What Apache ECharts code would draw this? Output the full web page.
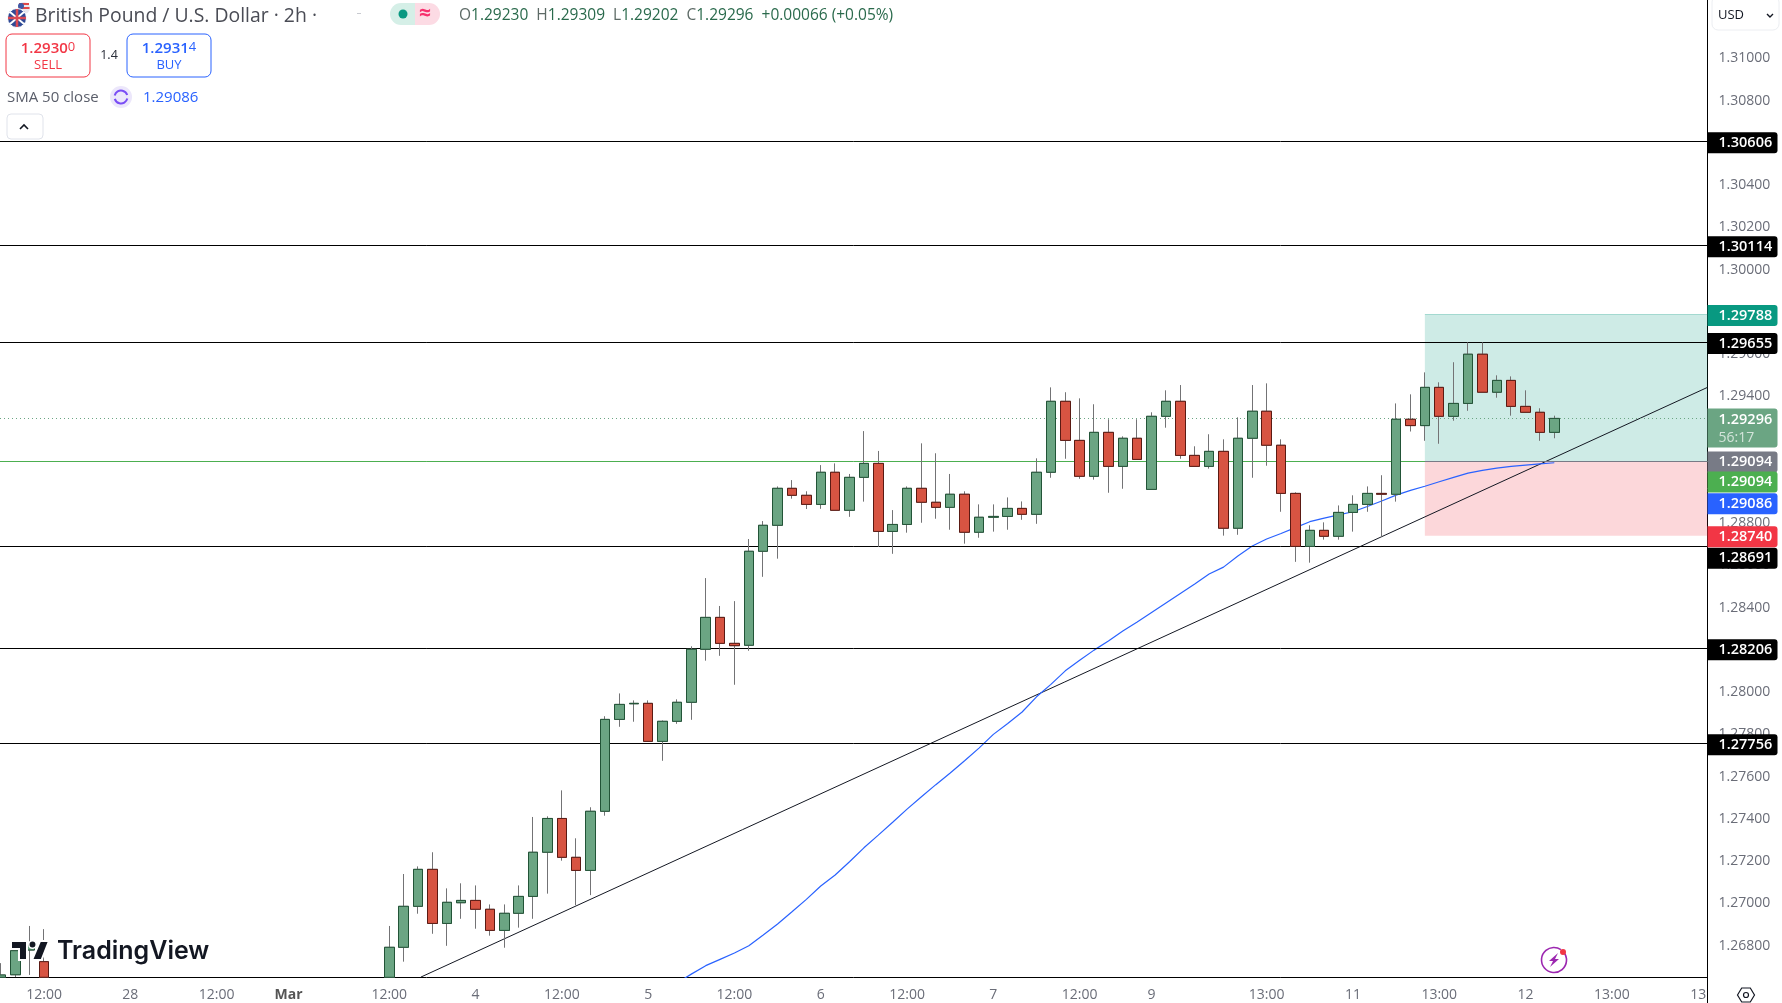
<!DOCTYPE html>
<html><head><meta charset="utf-8">
<style>html,body{margin:0;padding:0;background:#fff}#c{width:1782px;height:1003px}</style>
<script src="https://cdn.jsdelivr.net/npm/echarts@6/dist/echarts.min.js"></script>
</head><body><div id="c"></div>
<script>
// Candles by slot (2h bars). Slots 4-26 lie below the visible price range.
const hidden = Array(23).fill(null);
const opens = [1.26650,1.26662,1.26779,1.26724,...hidden,
 1.26650,1.26792,1.26986,1.27161,1.26905,1.27003,1.27014,1.26972,1.26872,1.26953,
 1.27033,1.27242,1.27402,1.27218,1.27156,1.27436,1.27871,1.27945,1.27947,1.27767,
 1.27862,1.27952,1.28203,1.28354,1.28231,1.28222,1.28667,1.28790,1.28965,1.28932,
 1.28889,1.29041,1.28861,1.29017,1.29083,1.28761,1.28794,1.28965,1.28899,1.28875,
 1.28937,1.28757,1.28828,1.28832,1.28870,1.28842,1.29041,1.29377,1.29192,1.29022,
 1.29230,1.29069,1.29202,1.28960,1.29306,1.29377,1.29121,1.29069,1.29140,1.28776,
 1.29202,1.29330,1.29169,1.28941,1.28690,1.28766,1.28738,1.28851,1.28889,1.28941,
 1.28937,1.29292,1.29262,1.29443,1.29306,1.29367,1.29600,1.29420,1.29476,1.29353,1.29325,1.29230];
const closes = [1.26661,1.26776,1.26803,1.26650,...hidden,
 1.26792,1.26986,1.27161,1.26905,1.27005,1.27014,1.26972,1.26872,1.26953,1.27033,
 1.27242,1.27402,1.27218,1.27156,1.27436,1.27871,1.27942,1.27947,1.27767,1.27862,
 1.27952,1.28203,1.28354,1.28231,1.28220,1.28667,1.28790,1.28965,1.28932,1.28889,
 1.29041,1.28861,1.29017,1.29083,1.28761,1.28794,1.28965,1.28899,1.28875,1.28937,
 1.28757,1.28828,1.28832,1.28870,1.28842,1.29041,1.29377,1.29192,1.29022,1.29230,
 1.29069,1.29202,1.29102,1.29306,1.29377,1.29121,1.29069,1.29140,1.28776,1.29202,
 1.29330,1.29169,1.28941,1.28690,1.28766,1.28738,1.28851,1.28889,1.28941,1.28937,
 1.29292,1.29262,1.29443,1.29306,1.29367,1.29600,1.29420,1.29476,1.29353,1.29325,1.29230,1.29296];
const lows = [1.26650,1.26651,1.26661,1.26650,...hidden,
 1.26650,1.26724,1.26951,1.26856,1.26799,1.26927,1.26880,1.26847,1.26790,1.26885,
 1.26927,1.27046,1.27202,1.26991,1.27039,1.27415,1.27836,1.27860,1.27765,1.27675,
 1.27850,1.27869,1.28149,1.28172,1.28035,1.28196,1.28546,1.28632,1.28916,1.28867,
 1.28868,1.28861,1.28830,1.28902,1.28688,1.28655,1.28755,1.28802,1.28821,1.28769,
 1.28703,1.28731,1.28760,1.28769,1.28816,1.28797,1.29015,1.29105,1.29010,1.29006,
 1.28944,1.28963,1.29102,1.28960,1.29252,1.29105,1.29069,1.29058,1.28741,1.28745,
 1.29015,1.29072,1.28854,1.28617,1.28613,1.28722,1.28722,1.28760,1.28854,1.28736,
 1.28902,1.29234,1.29190,1.29176,1.29285,1.29332,1.29420,1.29394,1.29309,1.29325,1.29190,1.29202];
const highs = [1.26717,1.26803,1.26893,1.26878,...hidden,
 1.26893,1.27139,1.27175,1.27242,1.27071,1.27095,1.27085,1.26995,1.26995,1.27085,
 1.27409,1.27412,1.27535,1.27308,1.27455,1.27886,1.27994,1.27961,1.27961,1.27866,
 1.27966,1.28217,1.28540,1.28408,1.28431,1.28725,1.28810,1.28974,1.29004,1.28951,
 1.29075,1.29083,1.29033,1.29236,1.29142,1.28862,1.28974,1.29178,1.29131,1.29033,
 1.28951,1.28889,1.28889,1.28922,1.28903,1.29107,1.29443,1.29420,1.29391,1.29363,
 1.29292,1.29211,1.29292,1.29325,1.29429,1.29454,1.29164,1.29221,1.29197,1.29301,
 1.29454,1.29462,1.29197,1.28946,1.28790,1.28804,1.28884,1.28932,1.28974,1.29027,
 1.29367,1.29410,1.29514,1.29467,1.29562,1.29656,1.29656,1.29500,1.29495,1.29429,1.29344,1.29309];

// SMA 50 close, starting at slot 47
const smaStart = 47;
const smaValues = [1.26623,1.26665,1.26705,1.26735,1.26765,1.26799,1.26850,1.26902,1.26960,1.27019,
 1.27082,1.27134,1.27197,1.27263,1.27323,1.27384,1.27446,1.27505,1.27562,1.27617,
 1.27675,1.27735,1.27800,1.27852,1.27906,1.27978,1.28037,1.28101,1.28151,1.28199,
 1.28242,1.28289,1.28332,1.28377,1.28422,1.28467,1.28512,1.28559,1.28592,1.28645,
 1.28692,1.28725,1.28751,1.28779,1.28807,1.28824,1.28839,1.28854,1.28879,1.28905,
 1.28933,1.28955,1.28975,1.28996,1.29017,1.29037,1.29050,1.29061,1.29069,1.29075,1.29081,1.29086];

// Rising trendline end points [slot, price]
const trendLine = [[29.2,1.26651],[118.65,1.29443]];
// Horizontal support / resistance levels
const levels = [1.30606,1.30114,1.29655,1.28691,1.28206,1.27756];
const entryPrice = 1.29094, targetPrice = 1.29788, stopPrice = 1.28740, lastPrice = 1.29296, smaLast = 1.29086;
const boxStartSlot = 99;

// Axis ticks
const priceTicks = [1.268,1.27,1.272,1.274,1.276,1.278,1.28,1.282,1.284,1.286,1.288,1.29,1.292,1.294,1.296,1.298,1.30,1.302,1.304,1.306,1.308,1.31];
const timeSlots = [3,9,15,20,27,33,39,45,51,57,63,69,75,80,88,94,100,106,112,118];
const timeLabels = ['12:00','28','12:00','Mar','12:00','4','12:00','5','12:00','6','12:00','7','12:00','9','13:00','11','13:00','12','13:00','13'];

const slotMin = -0.0626, slotMax = 118.65, priceMin = 1.26649, priceMax = 1.31277;
const FONT = '"Open Sans", sans-serif';

const wickData = [], bodyData = [];
opens.forEach((o, i) => {
  if (o === null) return;
  wickData.push([i, o, closes[i], lows[i], highs[i]]);
  bodyData.push([i, o, closes[i], Math.min(o, closes[i]), Math.max(o, closes[i])]);
});
const smaData = smaValues.map((v, k) => [smaStart + k, v]);

function tag(price, text, bg, dy) {
  return { coord: [slotMax, price], symbol: 'circle', symbolSize: 0,
    label: { show: true, position: 'right', distance: 0, offset: [0, (dy || 0) + 1], formatter: text,
      color: '#fff', fontFamily: FONT, fontSize: 14.5, fontWeight: 600, backgroundColor: bg,
      width: 59, height: 19, lineHeight: 19, padding: [2, 0, 0, 11], borderRadius: [0, 3, 3, 0], align: 'left' } };
}
const tags = [
  ...levels.map(v => tag(v, v.toFixed(5), '#000', v === 1.28691 ? 11 : 0)),
  tag(targetPrice, targetPrice.toFixed(5), '#089981', 0),
  tag(entryPrice, entryPrice.toFixed(5), '#787b86', 0),
  tag(entryPrice, entryPrice.toFixed(5), '#4caf50', 20),
  tag(smaLast, smaLast.toFixed(5), '#2962ff', 40),
  tag(stopPrice, stopPrice.toFixed(5), '#f23645', 0),
  { coord: [slotMax, lastPrice], symbol: 'circle', symbolSize: 0,
    label: { show: true, position: 'right', distance: 0, offset: [0, 9.5],
      formatter: '{a|' + lastPrice.toFixed(5) + '}\n{b|56:17}', backgroundColor: '#6ba583',
      width: 59, height: 37, padding: [2, 0, 0, 11], borderRadius: [0, 3, 3, 0], align: 'left',
      rich: { a: { color: '#fff', fontFamily: FONT, fontSize: 14.5, fontWeight: 600, lineHeight: 19 },
              b: { color: '#d3e4da', fontFamily: FONT, fontSize: 14, lineHeight: 18 } } } }
];

const t = (x, y, text, fill, size, extra) => ({ type: 'text', z: 100, x, y,
  style: Object.assign({ text, fill, fontFamily: FONT, fontSize: size, verticalAlign: 'middle', align: 'left' }, extra || {}) });
const stroke = (c, w) => ({ stroke: c, lineWidth: w || 1, fill: null });

const graphics = [
  // flags
  { type: 'circle', z: 100, shape: { cx: 24, cy: 8, r: 6 }, style: { fill: '#e8e8ee' } },
  { type: 'rect', z: 100, shape: { x: 19, y: 3, width: 10, height: 2 }, style: { fill: '#e04848' } },
  { type: 'rect', z: 100, shape: { x: 18.5, y: 7, width: 11, height: 2 }, style: { fill: '#e04848' } },
  { type: 'circle', z: 100, shape: { cx: 21, cy: 6, r: 3 }, style: { fill: '#3c5aa8' } },
  { type: 'circle', z: 101, shape: { cx: 17, cy: 18, r: 9.5 }, style: { fill: '#2f4a96', stroke: '#fff', lineWidth: 1 } },
  { type: 'line', z: 102, shape: { x1: 10, y1: 12, x2: 24, y2: 24 }, style: stroke('#fff', 2) },
  { type: 'line', z: 102, shape: { x1: 24, y1: 12, x2: 10, y2: 24 }, style: stroke('#fff', 2) },
  { type: 'line', z: 103, shape: { x1: 17, y1: 9, x2: 17, y2: 27 }, style: stroke('#d94a55', 2.5) },
  { type: 'line', z: 103, shape: { x1: 8, y1: 18, x2: 26, y2: 18 }, style: stroke('#d94a55', 2.5) },
  // title
  t(35, 16, 'British Pound / U.S. Dollar · 2h ·', '#4a4c55', 19.4),
  { type: 'rect', z: 100, shape: { x: 357, y: 13, width: 4, height: 1 }, style: { fill: '#c8cad0' } },
  // status pill
  { type: 'rect', z: 100, shape: { x: 390, y: 3, width: 25, height: 22, r: [11, 0, 0, 11] }, style: { fill: '#d5efe7' } },
  { type: 'rect', z: 100, shape: { x: 415, y: 3, width: 25, height: 22, r: [0, 11, 11, 0] }, style: { fill: '#fcdbe4' } },
  { type: 'circle', z: 101, shape: { cx: 403, cy: 14, r: 4.5 }, style: { fill: '#089981' } },
  t(425, 14, '≈', '#f7306e', 21, { fontWeight: 700, align: 'center' }),
  // OHLC
  t(459, 16, '{l|O}{v|1.29230}  {l|H}{v|1.29309}  {l|L}{v|1.29202}  {l|C}{v|1.29296}  {v|+0.00066 (+0.05%)}', '#2a6a4c', 15.5,
    { rich: { l: { fill: '#5d6a66', fontFamily: FONT, fontSize: 15.5 }, v: { fill: '#2a6a4c', fontFamily: FONT, fontSize: 15.5 } } }),
  // sell / buy
  { type: 'rect', z: 100, shape: { x: 6, y: 34, width: 84, height: 43, r: 6 }, style: { fill: '#fff', stroke: '#f23645', lineWidth: 1 } },
  t(48, 48.5, '{m|1.2930}{s|0}', '#f23645', 15, { align: 'center',
    rich: { m: { fill: '#f23645', fontFamily: FONT, fontSize: 15, fontWeight: 600 }, s: { fill: '#f23645', fontFamily: FONT, fontSize: 13, verticalAlign: 'top' } } }),
  t(48, 65.5, 'SELL', '#f23645', 13, { align: 'center' }),
  t(109, 55, '1.4', '#2a2e39', 12.5, { align: 'center' }),
  { type: 'rect', z: 100, shape: { x: 127, y: 34, width: 84, height: 43, r: 6 }, style: { fill: '#fff', stroke: '#2962ff', lineWidth: 1 } },
  t(169, 48.5, '{m|1.2931}{s|4}', '#2962ff', 15, { align: 'center',
    rich: { m: { fill: '#2962ff', fontFamily: FONT, fontSize: 15, fontWeight: 600 }, s: { fill: '#2962ff', fontFamily: FONT, fontSize: 13, verticalAlign: 'top' } } }),
  t(169, 65.5, 'BUY', '#2962ff', 13, { align: 'center' }),
  // SMA legend
  t(7, 97.5, 'SMA 50 close', '#5a5e6a', 15),
  { type: 'circle', z: 100, shape: { cx: 121, cy: 97, r: 11 }, style: { fill: '#ece7fb' } },
  { type: 'arc', z: 101, shape: { cx: 121, cy: 97, r: 6.5, startAngle: -2.9, endAngle: -0.3 }, style: stroke('#7a4df5', 2) },
  { type: 'arc', z: 101, shape: { cx: 121, cy: 97, r: 6.5, startAngle: 0.25, endAngle: 2.85 }, style: stroke('#7a4df5', 2) },
  t(143, 97.5, smaLast.toFixed(5), '#2962ff', 15),
  // collapse button
  { type: 'rect', z: 100, shape: { x: 7, y: 114, width: 36, height: 25, r: 4 }, style: { fill: '#fff', stroke: '#e0e3eb', lineWidth: 1 } },
  { type: 'polyline', z: 101, shape: { points: [[20, 129], [24, 125], [28, 129]] }, style: stroke('#131722', 1.6) },
  // currency button
  { type: 'rect', z: 100, shape: { x: 1712, y: -4, width: 67, height: 34, r: 6 }, style: { fill: '#fff', stroke: '#eceef2', lineWidth: 1 } },
  t(1718, 15, 'USD', '#131722', 13),
  { type: 'polyline', z: 101, shape: { points: [[1767, 14], [1770, 17], [1773, 14]] }, style: stroke('#131722', 1.4) },
  // axis corner
  { type: 'line', z: 90, shape: { x1: 1707.5, y1: 977, x2: 1707.5, y2: 1003 }, style: stroke('#000', 1) },
  // gear
  { type: 'polygon', z: 100, shape: { points: [[1737.5, 995], [1741.7, 988], [1750.3, 988], [1754.5, 995], [1750.3, 1002], [1741.7, 1002]] }, style: stroke('#131722', 1.2) },
  { type: 'circle', z: 100, shape: { cx: 1746, cy: 995, r: 2.5 }, style: stroke('#131722', 1.2) },
  // lightning
  { type: 'arc', z: 100, shape: { cx: 1554, cy: 960, r: 12.5, startAngle: -0.7, endAngle: 5.3 }, style: stroke('#9c27b0', 1.6) },
  { type: 'polygon', z: 100, shape: { points: [[1558, 953], [1549, 961], [1553, 961], [1550, 967], [1559, 959], [1555, 959]] }, style: { fill: '#9c27b0' } },
  { type: 'circle', z: 101, shape: { cx: 1563, cy: 952, r: 3 }, style: { fill: '#f23645' } },
  // logo
  { type: 'polygon', z: 100, shape: { points: [[11, 941], [27, 941], [27, 960], [19, 960], [19, 949], [11, 949]] }, style: { fill: '#131722', stroke: '#fff', lineWidth: 2 } },
  { type: 'circle', z: 100, shape: { cx: 32.5, cy: 944.5, r: 3.7 }, style: { fill: '#131722', stroke: '#fff', lineWidth: 1.5 } },
  { type: 'polygon', z: 100, shape: { points: [[40, 941], [49, 941], [41.5, 960], [32, 960]] }, style: { fill: '#131722', stroke: '#fff', lineWidth: 2 } },
  t(57, 951, 'TradingView', '#131722', 25, { fontFamily: 'Inter, sans-serif', fontWeight: 600, stroke: '#fff', lineWidth: 3 })
];

const chart = echarts.init(document.getElementById('c'), null, { renderer: 'canvas' });
chart.setOption({
  animation: false,
  backgroundColor: '#fff',
  grid: { left: 0, top: 0, right: 74.5, bottom: 25.5, containLabel: false },
  xAxis: { type: 'value', min: slotMin, max: slotMax, splitLine: { show: false },
    axisLine: { show: true, onZero: false, lineStyle: { color: '#000', width: 1 } }, axisTick: { show: false },
    axisLabel: { customValues: timeSlots, margin: 11, color: '#6a6d78', fontFamily: FONT, fontSize: 14,
      formatter: (v) => { const s = timeLabels[timeSlots.indexOf(v)] || ''; return s === 'Mar' ? '{b|Mar}' : s; },
      rich: { b: { color: '#555', fontWeight: 700, fontFamily: FONT, fontSize: 14 } } } },
  yAxis: { type: 'value', position: 'right', min: priceMin, max: priceMax, scale: true, splitLine: { show: false },
    axisLine: { show: true, onZero: false, lineStyle: { color: '#000', width: 1 } }, axisTick: { show: false },
    axisLabel: { customValues: priceTicks, margin: 11, lineHeight: 18, padding: [3, 0, 0, 0], color: '#6a6d78', fontFamily: FONT, fontSize: 14,
      formatter: (v) => v.toFixed(5) } },
  graphic: graphics,
  series: [
    { name: 'Position', type: 'line', z: 1, data: [], silent: true,
      markArea: { silent: true, data: [
        [{ xAxis: boxStartSlot, yAxis: targetPrice, itemStyle: { color: 'rgba(8,153,129,0.2)' } }, { xAxis: slotMax, yAxis: entryPrice }],
        [{ xAxis: boxStartSlot, yAxis: entryPrice, itemStyle: { color: 'rgba(242,54,69,0.2)' } }, { xAxis: slotMax, yAxis: stopPrice }]
      ] } },
    { name: 'Levels', type: 'line', z: 2, data: [], silent: true,
      markLine: { silent: true, symbol: 'none', precision: 6, label: { show: false }, data: [
        ...levels.map(v => ({ yAxis: v, lineStyle: { color: '#000', width: 1, type: 'solid' } })),
        { yAxis: entryPrice, lineStyle: { color: '#4caf50', width: 1, type: 'solid' } },
        { yAxis: lastPrice, lineStyle: { color: '#6ba583', width: 1, type: [1, 3] } },
        [{ xAxis: boxStartSlot, yAxis: entryPrice, lineStyle: { color: '#787b86', width: 1, type: 'solid' } }, { xAxis: slotMax, yAxis: entryPrice }],
        [{ xAxis: boxStartSlot, yAxis: targetPrice, lineStyle: { color: 'rgba(8,153,129,0.3)', width: 1, type: 'solid' } }, { xAxis: slotMax, yAxis: targetPrice }]
      ] } },
    { name: 'Trend', type: 'line', z: 3, data: trendLine, symbol: 'none', silent: true, lineStyle: { color: '#131722', width: 1 } },
    { name: 'SMA 50', type: 'line', z: 4, data: smaData, symbol: 'none', silent: true, lineStyle: { color: '#2962ff', width: 1.2 } },
    { name: 'Wicks', type: 'candlestick', z: 5, data: wickData, barWidth: 10, silent: true,
      itemStyle: { color: '#737375', color0: '#737375', borderColor: '#737375', borderColor0: '#737375', borderColorDoji: '#737375', borderWidth: 1 } },
    { name: 'GBP/USD', type: 'candlestick', z: 6, data: bodyData, barWidth: 10, silent: true,
      itemStyle: { color: '#6ba583', color0: '#d75442', borderColor: '#225437', borderColor0: '#5b1a13', borderColorDoji: '#225437', borderWidth: 1 } },
    { name: 'Tags', type: 'line', z: 20, data: [], silent: true,
      markPoint: { silent: true, data: tags } }
  ]
});
</script></body></html>
